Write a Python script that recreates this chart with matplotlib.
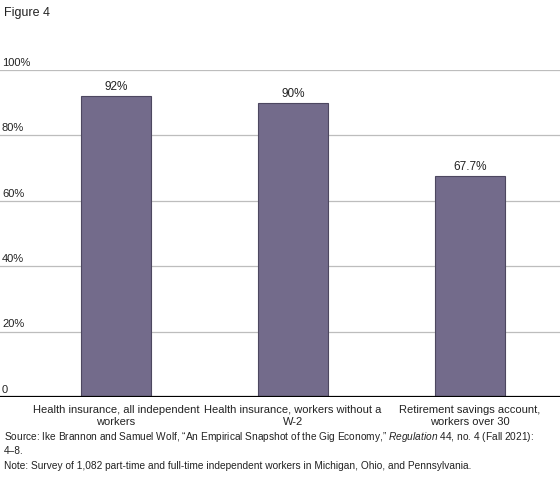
import matplotlib.pyplot as plt

categories = ["Health insurance, all independent\nworkers",
              "Health insurance, workers without a\nW-2",
              "Retirement savings account,\nworkers over 30"]
values = [92, 90, 67.7]
value_labels = ["92%", "90%", "67.7%"]
y_ticks = [0, 20, 40, 60, 80, 100]
y_tick_labels = ["0", "20%", "40%", "60%", "80%", "100%"]

plt.rcParams['font.family'] = ['Liberation Sans', 'DejaVu Sans']
plt.rcParams['mathtext.fontset'] = 'custom'
plt.rcParams['mathtext.it'] = 'Liberation Sans:italic'
plt.rcParams['mathtext.rm'] = 'Liberation Sans'

W, H = 560, 481
fig = plt.figure(figsize=(W / 100, H / 100), dpi=100)
# axes: 0 at y=398px, 100 at y=71px, full width
ax = fig.add_axes([0, (H - 398) / H, 1, (398 - 71) / H])
ax.set_ylim(0, 100)
spacing = 177
ax.set_xlim(-116 / spacing, (W - 116) / spacing)

for y in y_ticks[1:]:
    ax.axhline(y, color='#bdbdbd', lw=0.9, zorder=0)
ax.axhline(0, color='black', lw=1.6, zorder=3)

x = range(len(values))
ax.bar(x, values, width=70 / spacing, color='#736b8b', edgecolor='#4d4760',
       linewidth=0.8, zorder=2)
for xi, v, lab in zip(x, values, value_labels):
    ax.text(xi, v + 1.2, lab, ha='center', va='bottom', fontsize=8.5, color='#222222')

for y, lab in zip(y_ticks, y_tick_labels):
    ax.text(-116 / spacing + 2 / spacing, y + 1.0, lab, ha='left', va='bottom',
            fontsize=8, color='#222222')

for xi, c in zip(x, categories):
    ax.text(xi, -2.0, c, ha='center', va='top', fontsize=8, color='#222222',
            linespacing=1.25)

ax.set_axis_off()

fig.text(4 / W, 1 - 13 / H, "Figure 4", ha='left', va='center', fontsize=9, color='#222222')
fig.text(4 / W, 1 - 437 / H,
         "Source: Ike Brannon and Samuel Wolf, \u201cAn Empirical Snapshot of the Gig Economy,\u201d "
         "$\\it{Regulation}$ 44, no. 4 (Fall 2021):",
         ha='left', va='center', fontsize=7.3, color='#222222')
fig.text(4 / W, 1 - 451 / H, "4\u20138.", ha='left', va='center', fontsize=7.3, color='#222222')
fig.text(4 / W, 1 - 466 / H,
         "Note: Survey of 1,082 part-time and full-time independent workers in Michigan, Ohio, and Pennsylvania.",
         ha='left', va='center', fontsize=7.3, color='#222222')

fig.savefig("out.png", dpi=100)
